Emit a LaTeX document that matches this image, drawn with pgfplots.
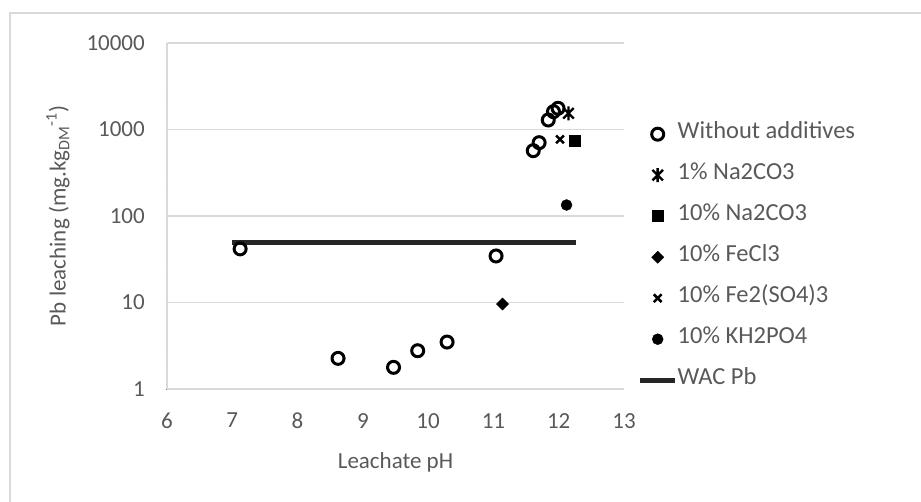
\documentclass[border=0pt]{standalone}
\usepackage{fontspec}
\setmainfont{Carlito}
\usepackage{pgfplots}
\pgfplotsset{compat=1.18}
\definecolor{txt}{HTML}{595959}
\definecolor{grd}{HTML}{D9D9D9}
\definecolor{ink}{HTML}{000000}
\pgfdeclareplotmark{xstar}{%
  \pgfpathmoveto{\pgfqpoint{-.75\pgfplotmarksize}{-.75\pgfplotmarksize}}%
  \pgfpathlineto{\pgfqpoint{.75\pgfplotmarksize}{.75\pgfplotmarksize}}%
  \pgfpathmoveto{\pgfqpoint{-.75\pgfplotmarksize}{.75\pgfplotmarksize}}%
  \pgfpathlineto{\pgfqpoint{.75\pgfplotmarksize}{-.75\pgfplotmarksize}}%
  \pgfpathmoveto{\pgfqpoint{0pt}{-\pgfplotmarksize}}%
  \pgfpathlineto{\pgfqpoint{0pt}{\pgfplotmarksize}}%
  \pgfusepathqstroke}
\begin{document}
\begin{tikzpicture}
\useasboundingbox (-167pt,-112pt) rectangle (754pt,389pt);
\draw[grd, line width=1.5pt] (-157pt,-115pt) -- (-157pt,376pt) -- (760pt,376pt);
\begin{axis}[
  at={(0pt,0pt)}, anchor=south west,
  scale only axis, width=457pt, height=346pt,
  ymode=log, xmin=6, xmax=13, ymin=1, ymax=10000,
  axis x line=bottom, axis y line=left,
  axis line style={grd, line width=1.2pt, -},
  xtick={6,7,8,9,10,11,12,13},
  ytick={1,10,100,1000,10000},
  yticklabels={1,10,100,1000,10000},
  major tick length=0pt, minor tick num=0,
  ymajorgrids, grid style={grd, line width=1.2pt},
  /pgf/number format/assume math mode=true,
  tick label style={font=\fontsize{23}{27}\selectfont, text=txt, inner sep=0pt},
  yticklabel style={xshift=-22pt},
  xticklabel style={yshift=-24pt},
  xlabel={Leachate pH},
  ylabel={Pb leaching (mg.kg\textsubscript{DM}\textsuperscript{-1})},
  label style={font=\fontsize{23}{27}\selectfont, text=txt},
  xlabel style={at={(axis description cs:0.5,-0.211)}, anchor=center},
  ylabel style={at={(axis description cs:-0.2385,0.5)}, anchor=center},
  legend cell align=left,
  legend style={at={(axis description cs:1,1)}, anchor=north west,
    xshift=13.5pt, yshift=-70.5pt, draw=none, fill=none, inner sep=0pt,
    font=\fontsize{24.5}{28}\selectfont, text=txt, row sep=0pt,
    nodes={inner sep=0pt, minimum height=41pt, text height=13pt, text depth=4pt, xshift=9pt}},
  legend image code/.code={\draw[mark repeat=2,mark phase=2,#1] plot coordinates {(0pt,0pt)(17.5pt,0pt)(35pt,0pt)};},
  clip=false,
]
\addplot[only marks, mark=o, mark size=6pt, mark options={line width=3pt, draw=ink}] coordinates {
  (7.12,41.7) (8.62,2.26) (9.47,1.78) (9.84,2.77) (10.29,3.49) (11.04,34.5)
  (11.61,569) (11.70,704) (11.84,1288) (11.92,1607) (11.99,1758)
};
\addlegendentry{Without additives}
\addplot[only marks, mark=xstar, mark size=7pt, mark options={line width=2.4pt, draw=ink}] coordinates {(12.15,1540)};
\addlegendentry{1\% Na2CO3}
\addplot[only marks, mark=square*, mark size=5.5pt, mark options={draw=ink, fill=ink}] coordinates {(12.24,736)};
\addlegendentry{10\% Na2CO3}
\addplot[only marks, mark=square*, mark size=4.3pt, mark options={draw=ink, fill=ink, rotate=45}] coordinates {(11.14,9.6)};
\addlegendentry{10\% FeCl3}
\addplot[only marks, mark=x, mark size=5.5pt, mark options={line width=2.5pt, draw=ink}] coordinates {(12.02,770)};
\addlegendentry{10\% Fe2(SO4)3}
\addplot[only marks, mark=*, mark size=5.5pt, mark options={draw=ink, fill=ink}] coordinates {(12.12,134)};
\addlegendentry{10\% KH2PO4}
\addplot[no marks, line width=5pt, color=ink!85] coordinates {(7,50) (12.27,50)};
\addlegendentry{WAC Pb}
\end{axis}
\end{tikzpicture}
\end{document}
